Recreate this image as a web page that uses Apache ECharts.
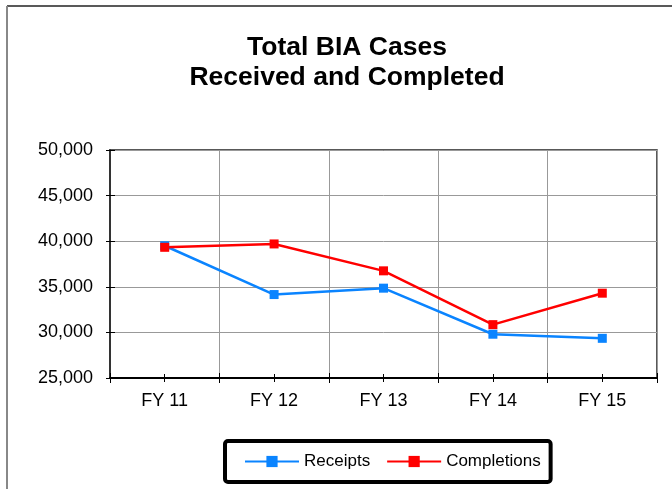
<!DOCTYPE html>
<html>
<head>
<meta charset="utf-8">
<script src="https://cdn.jsdelivr.net/npm/echarts@6/dist/echarts.min.js"></script>
<style>
  html, body { margin: 0; padding: 0; background: #fff; }
  #chart { width: 672px; height: 489px; }
</style>
</head>
<body>
<div id="chart"></div>
<script>
// values
const years = ["FY 11", "FY 12", "FY 13", "FY 14", "FY 15"];
const receipts = [39500, 34150, 34850, 29800, 29350];
const completions = [39330, 39700, 36750, 30850, 34300];
const yMin = 25000;
const yMax = 50000;
const yStep = 5000;

const font = "Liberation Sans, Arial, sans-serif";

// extra axes only draw the other half of the crossing tick marks
const xAxisBase = {
  type: "category",
  data: years,
  position: "bottom",
  boundaryGap: true,
  axisLine: { show: false, onZero: false },
  axisLabel: { show: false },
  splitLine: { show: false },
};
const yAxisBase = {
  type: "value",
  min: yMin,
  max: yMax,
  interval: yStep,
  position: "left",
  axisLine: { show: false },
  axisLabel: { show: false },
  splitLine: { show: false },
};

const chart = echarts.init(document.getElementById("chart"));
chart.setOption({
  animation: false,
  backgroundColor: "#fff",
  textStyle: { fontFamily: font },
  title: {
    text: "Total BIA Cases\nReceived and Completed",
    left: 347,
    top: 33,
    textAlign: "center",
    padding: 0,
    textStyle: {
      fontFamily: font,
      fontSize: 26.5,
      fontWeight: "bold",
      color: "#000",
      lineHeight: 30,
    },
  },
  graphic: [
    { type: "line", shape: { x1: 7, y1: 6, x2: 672, y2: 6 }, style: { stroke: "#222", lineWidth: 1.5 } },
    { type: "line", shape: { x1: 7, y1: 6, x2: 7, y2: 489 }, style: { stroke: "#888", lineWidth: 2 } },
  ],
  grid: {
    left: 110,
    right: 15,
    top: 150,
    bottom: 111,
    show: true,
    borderColor: "#222",
    borderWidth: 1.5,
  },
  legend: {
    left: 225,
    top: 441,
    orient: "horizontal",
    itemWidth: 54,
    itemHeight: 14,
    itemGap: 16,
    padding: [12, 10, 12, 19],
    borderColor: "#000",
    borderWidth: 4,
    borderRadius: 3,
    textStyle: { fontFamily: font, fontSize: 17, color: "#000" },
    data: ["Receipts", "Completions"],
  },
  xAxis: [
    {
      type: "category",
      data: years,
      position: "bottom",
      boundaryGap: true,
      axisLine: { onZero: false, lineStyle: { color: "#000", width: 2 } },
      axisTick: { show: true, inside: false, length: 5, lineStyle: { color: "#000" } },
      axisLabel: { margin: 14, fontFamily: font, fontSize: 18, color: "#000" },
      splitLine: { show: true, lineStyle: { color: "#999", width: 1 } },
    },
    Object.assign({}, xAxisBase, {
      axisTick: { show: true, inside: true, length: 5, lineStyle: { color: "#000" } },
    }),
    Object.assign({}, xAxisBase, {
      axisTick: { show: true, inside: false, alignWithLabel: true, length: 4, lineStyle: { color: "#000" } },
    }),
    Object.assign({}, xAxisBase, {
      axisTick: { show: true, inside: true, alignWithLabel: true, length: 4, lineStyle: { color: "#000" } },
    }),
  ],
  yAxis: [
    {
      type: "value",
      min: yMin,
      max: yMax,
      interval: yStep,
      position: "left",
      axisLine: { show: true, onZero: false, lineStyle: { color: "#333", width: 2 } },
      axisTick: { show: true, inside: false, length: 4, lineStyle: { color: "#000" } },
      axisLabel: {
        margin: 17,
        fontFamily: font,
        fontSize: 18,
        color: "#000",
        formatter: (v) => v.toLocaleString("en-US"),
      },
      splitLine: { show: true, lineStyle: { color: "#999", width: 1 } },
    },
    Object.assign({}, yAxisBase, {
      axisTick: { show: true, inside: true, length: 5, lineStyle: { color: "#000" } },
    }),
  ],
  series: [
    {
      name: "Receipts",
      type: "line",
      data: receipts,
      xAxisIndex: 0,
      yAxisIndex: 0,
      symbol: "rect",
      symbolSize: 9,
      lineStyle: { color: "#0a84ff", width: 2.5 },
      itemStyle: { color: "#0a84ff" },
    },
    {
      name: "Completions",
      type: "line",
      data: completions,
      xAxisIndex: 0,
      yAxisIndex: 0,
      symbol: "rect",
      symbolSize: 9,
      lineStyle: { color: "#ff0000", width: 2.5 },
      itemStyle: { color: "#ff0000" },
    },
  ],
});
</script>
</body>
</html>
